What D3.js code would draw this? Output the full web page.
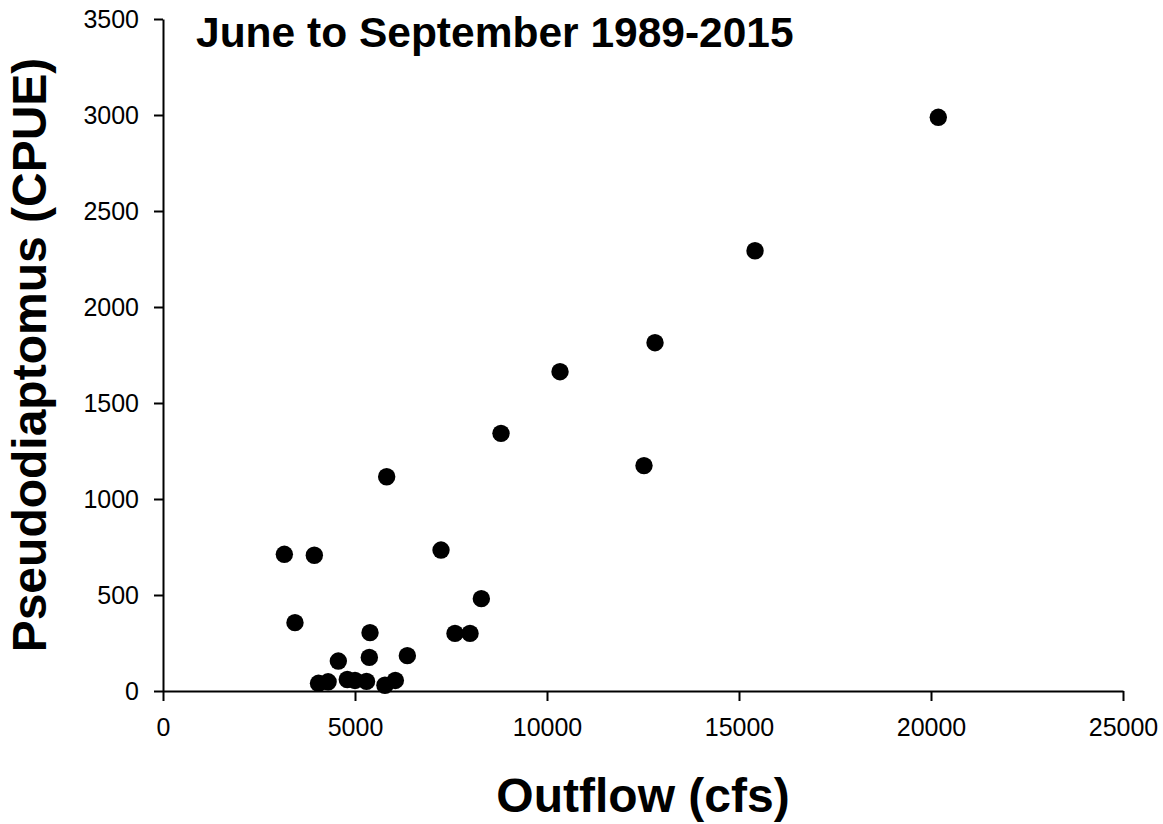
<!DOCTYPE html>
<html><head><meta charset="utf-8">
<script src="https://cdn.jsdelivr.net/npm/d3@7"></script>
<style>
html,body{margin:0;padding:0;background:#fff;}
text{font-family:"Liberation Sans",Arial,sans-serif;fill:#000;}
</style></head>
<body><svg id="chart" width="1163" height="824"></svg>
<script>
const outflow = [4050,4300,4800,5000,5300,5780,6050,4566,5391,5373,6363,3437,5825,3160,3941,7240,8290,7604,7995,8802,10339,12813,12526,20190,15417];
const cpue    = [40,48,60,55,50,30,55,156,304,175,184,356,1116,712,707,734,481,300,300,1342,1663,1814,1174,2988,2293];
const xTicks = [0,5000,10000,15000,20000,25000];
const yTicks = [0,500,1000,1500,2000,2500,3000,3500];
const title = "June to September 1989-2015";
const xLabel = "Outflow (cfs)";
const yLabel = "Pseudodiaptomus (CPUE)";

const svg = d3.select("#chart");
const x = d3.scaleLinear().domain([0,25000]).range([163,1123]);
const y = d3.scaleLinear().domain([0,3500]).range([691,19]);

const xAxis = svg.append("g").attr("transform","translate(0,691)")
  .call(d3.axisBottom(x).tickValues(xTicks).tickSize(10).tickPadding(17).tickFormat(d3.format("d")).tickSizeOuter(0));
const yAxis = svg.append("g").attr("transform","translate(163,0)")
  .call(d3.axisLeft(y).tickValues(yTicks).tickSize(9).tickPadding(15).tickFormat(d3.format("d")).tickSizeOuter(0));
[xAxis,yAxis].forEach(g=>{
  g.selectAll("path.domain").attr("stroke","#000").attr("stroke-width",2);
  g.selectAll(".tick line").attr("stroke","#000").attr("stroke-width",2);
  g.selectAll(".tick text").style("font-size","25px").style("font-family","'Liberation Sans',Arial,sans-serif").attr("fill","#000");
});

svg.append("g").selectAll("circle").data(outflow.map((v,i)=>[v,cpue[i]])).join("circle")
  .attr("cx",d=>x(d[0])).attr("cy",d=>y(d[1])).attr("r",8.7).attr("fill","#000");

svg.append("text").attr("x",196).attr("y",47).style("font-size","42.5px").style("font-weight","bold").text(title);
svg.append("text").attr("x",643).attr("y",812).attr("text-anchor","middle").style("font-size","48px").style("font-weight","bold").text(xLabel);
svg.append("text").attr("transform","translate(46,355) rotate(-90)").attr("text-anchor","middle").style("font-size","48px").style("font-weight","bold").text(yLabel);
</script></body></html>
